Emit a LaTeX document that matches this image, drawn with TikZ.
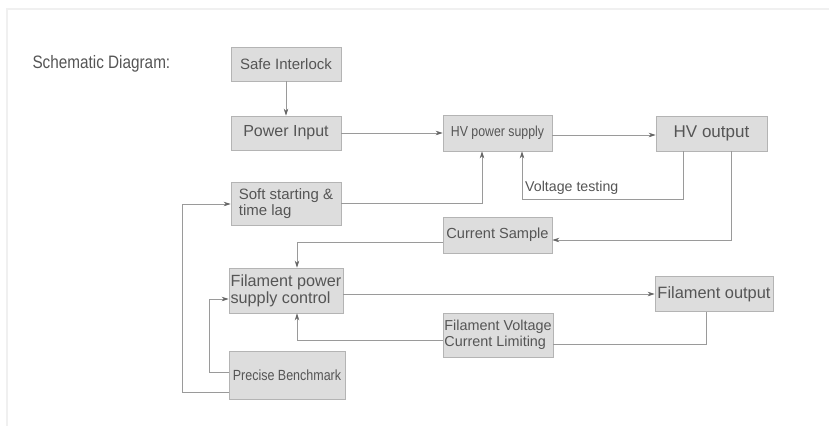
\documentclass[tikz,border=0pt]{standalone}
\usepackage{fontspec}
\setmainfont{Liberation Sans}
\newfontfamily\condfont{Liberation Sans}[FakeStretch=0.85]
\usetikzlibrary{arrows.meta}
\definecolor{boxfill}{HTML}{DDDDDD}
\definecolor{boxline}{HTML}{B4B4B4}
\definecolor{txt}{HTML}{555555}
\definecolor{wire}{HTML}{9A9A9A}
\tikzset{
  blk/.style={draw=boxline, line width=0.7pt, fill=boxfill, text=txt, inner sep=1pt,
              font=\fontsize{15}{16}\selectfont, align=left},
  arr/.style={draw=wire, line width=0.8pt, -{Stealth[length=7pt,width=4.5pt,color=txt!90]}},
  wire/.style={draw=wire, line width=0.8pt},
}
\begin{document}
\begin{tikzpicture}[x=1pt,y=-1pt]
\useasboundingbox[fill=white] (0,0) rectangle (829,426);
% faint frame
\draw[gray!12, line width=1.5pt] (829,9) -- (7,9) -- (7,426);

\node[text=txt, font=\condfont\fontsize{18}{20}\selectfont, anchor=west] (title) at (29,64) {Schematic Diagram:};

\node[blk, minimum width=110pt, minimum height=34pt] (safe) at (286,64) {Safe Interlock};
\node[blk, minimum width=110pt, minimum height=34pt, font=\fontsize{16}{17}\selectfont] (power) at (286,133) {Power Input};
\node[blk, minimum width=110pt, minimum height=43pt] (soft) at (286,203.5) {Soft starting \&\\time lag};
\node[blk, minimum width=109pt, minimum height=36pt, font=\condfont\fontsize{14.5}{16}\selectfont] (hvps) at (497.5,133) {HV power supply};
\node[blk, minimum width=111pt, minimum height=35pt, font=\fontsize{17}{18}\selectfont] (hvout) at (711.5,133.5) {HV output};
\node[blk, minimum width=109pt, minimum height=36pt, font=\fontsize{14.6}{16}\selectfont] (cursamp) at (497.5,235) {Current Sample};
\node[blk, minimum width=114pt, minimum height=45pt, font=\fontsize{16.2}{17}\selectfont] (filpow) at (286,290.5) {Filament power\\supply control};
\node[blk, minimum width=118pt, minimum height=35pt, font=\fontsize{16.4}{17}\selectfont] (filout) at (714,294) {Filament output};
\node[blk, minimum width=110pt, minimum height=44pt, font=\fontsize{14.4}{16}\selectfont] (filvolt) at (498,335) {Filament Voltage\\Current Limiting};
\node[blk, minimum width=116pt, minimum height=48pt, font=\condfont\fontsize{14.7}{16}\selectfont] (precise) at (287,375) {Precise Benchmark};

% connectors
\draw[arr] (safe.south) -- (power.north);
\draw[arr] (power.east) -- (hvps.west);
\draw[arr] (hvps.east |- 0,135) -- (hvout.west |- 0,135);

\coordinate (hvin1) at (482,0);
\coordinate (hvin2) at (522,0);
\draw[arr] (soft.east |- 0,203) -| (hvin1 |- hvps.south);

\coordinate (vt) at (683,199);
\draw[arr] (vt |- hvout.south) -- (vt) -| (hvin2 |- hvps.south);
\node[text=txt, font=\fontsize{14.2}{15}\selectfont, anchor=south west, inner sep=1pt] (vtlabel) at (524,196) {Voltage testing};

\coordinate (cs) at (731,240);
\draw[arr] (cs |- hvout.south) -- (cs) -- (cursamp.east |- cs);

\coordinate (fpx) at (297,0);
\draw[arr] (cursamp.west |- 0,242) -| (fpx |- filpow.north);
\draw[arr] (filpow.east |- 0,294) -- (filout.west |- 0,294);

\coordinate (fo) at (706,344);
\draw[wire] (fo |- filout.south) -- (fo) -- (filvolt.east |- fo);
\draw[arr] (filvolt.west |- 0,340) -| (fpx |- filpow.south);

\coordinate (pb1) at (209,372);
\draw[arr] (precise.west |- pb1) -- (pb1) |- (filpow.west |- 0,299);
\coordinate (pb2) at (182,392);
\draw[arr] (precise.west |- pb2) -- (pb2) |- (soft.west |- 0,204);
\end{tikzpicture}
\end{document}
